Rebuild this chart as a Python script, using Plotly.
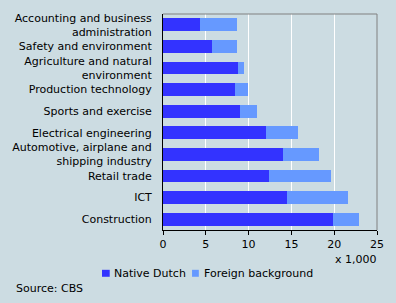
import plotly.graph_objects as go

categories = [
    "Accounting and business<br>administration",
    "Safety and environment",
    "Agriculture and natural<br>environment",
    "Production technology",
    "Sports and exercise",
    "Electrical engineering",
    "Automotive, airplane and<br>shipping industry",
    "Retail trade",
    "ICT",
    "Construction",
]
native_dutch = [4.3, 5.7, 8.8, 8.4, 9.0, 12.0, 14.0, 12.4, 14.5, 19.9]
foreign_background = [4.3, 2.9, 0.7, 1.5, 2.0, 3.8, 4.2, 7.2, 7.1, 3.05]
series_names = ["Native Dutch", "Foreign background"]
series_colors = ["#3333FF", "#6699FF"]
x_ticks = [0, 5, 10, 15, 20, 25]

BG = "#CCDCE2"
FONT = dict(family="DejaVu Sans, Verdana, sans-serif", size=11, color="#000000")

fig = go.Figure()
for vals, name, col in zip([native_dutch, foreign_background], series_names, series_colors):
    fig.add_trace(go.Bar(y=categories, x=vals, orientation="h", name=name,
                         marker=dict(color=col, line=dict(width=0)), showlegend=False))

# manual legend (small squares + text), positioned in paper coordinates
legend_sq_x = [(-0.285, -0.249), (0.1357, 0.1674)]
legend_txt_x = [-0.240, 0.181]
shapes = [
    dict(type="line", xref="paper", yref="paper", x0=0, x1=1, y0=1, y1=1,
         line=dict(color="#808080", width=1)),
    dict(type="line", xref="paper", yref="paper", x0=1, x1=1, y0=0, y1=1,
         line=dict(color="#808080", width=1)),
]
annotations = [
    dict(text="x 1,000", xref="paper", yref="paper", x=1.01, y=-0.135,
         xanchor="right", yanchor="middle", showarrow=False, font=FONT),
    dict(text="Source: CBS", xref="paper", yref="paper", x=-0.695, y=-0.272,
         xanchor="left", yanchor="middle", showarrow=False, font=FONT),
]
for (sx0, sx1), tx, name, col in zip(legend_sq_x, legend_txt_x, series_names, series_colors):
    shapes.append(dict(type="rect", xref="paper", yref="paper", x0=sx0, x1=sx1,
                       y0=-0.2166, y1=-0.1843, fillcolor=col, line=dict(width=0)))
    annotations.append(dict(text=name, xref="paper", yref="paper", x=tx, y=-0.2005,
                            xanchor="left", yanchor="middle", showarrow=False, font=FONT))

fig.update_layout(
    width=396, height=303,
    margin=dict(l=161, r=14, t=13, b=73),
    paper_bgcolor=BG, plot_bgcolor=BG,
    barmode="stack", bargap=0.4,
    font=FONT,
    hovermode=False,
    showlegend=False,
    xaxis=dict(range=[0, 25], tickvals=x_ticks, ticks="outside", ticklen=4,
               tickcolor="#000000", showline=True, linecolor="#000000", linewidth=1,
               showgrid=True, gridcolor="#FFFFFF", gridwidth=1, zeroline=False,
               fixedrange=True),
    yaxis=dict(autorange="reversed", showline=True, linecolor="#000000", linewidth=1,
               showgrid=False, ticks="", ticklabelstandoff=8, fixedrange=True),
    shapes=shapes,
    annotations=annotations,
)

fig.write_html("out.html")
